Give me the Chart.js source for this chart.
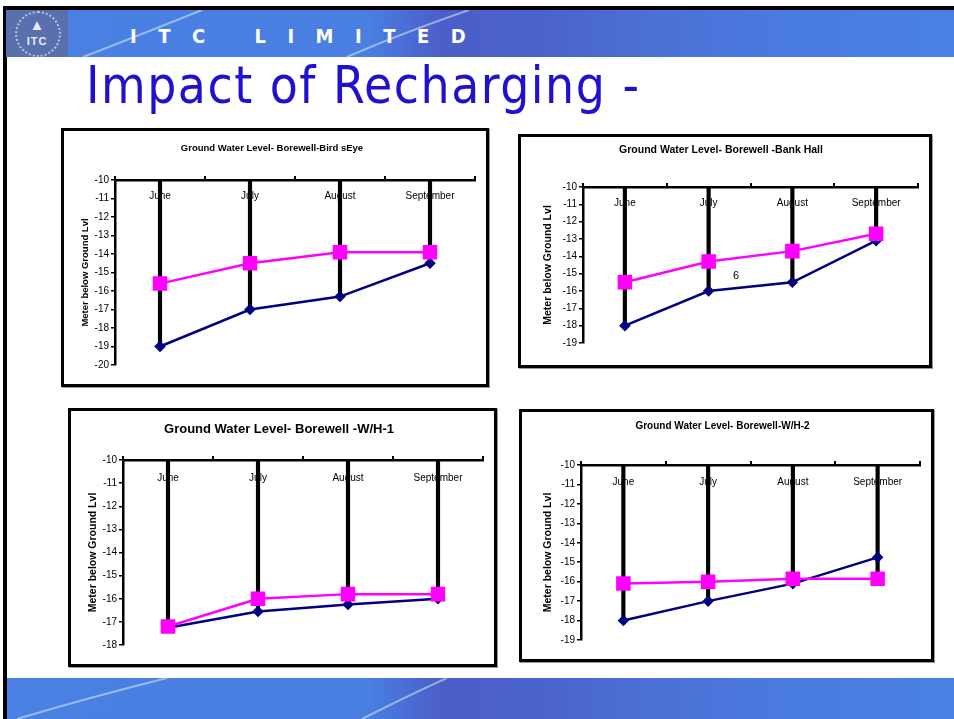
<!DOCTYPE html>
<html>
<head>
<meta charset="utf-8">
<title>Impact of Recharging</title>
<script src="https://cdn.jsdelivr.net/npm/chart.js@4.4.0/dist/chart.umd.min.js"></script>
<style>
    html, body { margin: 0; padding: 0; background: #fff; }
    body { width: 954px; height: 719px; position: relative; overflow: hidden; font-family: "Liberation Sans", Arial, sans-serif; }
    .topline { position: absolute; left: 3px; top: 6px; width: 951px; height: 4px; background: #000; }
    .leftline { position: absolute; left: 3px; top: 6px; width: 4px; height: 713px; background: #000; }
    .band { position: absolute; left: 7px; width: 947px; overflow: hidden;
        background: linear-gradient(90deg, #4a80e2 0%, #4a7fe2 38%, #4b5ec9 46%, #4b62cc 56%, #4b70d6 68%, #4a7bde 82%, #4a80e4 100%); }
    .band svg { position: absolute; left: 0; top: 0; }
    .header { top: 10px; height: 47px; }
    .footer { top: 678px; height: 41px; }
    .logo { position: absolute; left: 6px; top: 10px; width: 62px; height: 47px; background: #5a6fae; overflow: hidden; }
    .logo .ring { position: absolute; left: 9px; top: 1px; width: 42px; height: 42px; border-radius: 50%; border: 2px dotted #b9c3de; }
    .logo .mark { position: absolute; left: 0; top: 7px; width: 62px; text-align: center; color: #e8ecf6; font: bold 15px "Liberation Sans", Arial, sans-serif; line-height: 16px; }
    .logo .mark small { display: block; font-size: 11px; letter-spacing: 1px; }
    .company { position: absolute; left: 130px; top: 24px; color: #fff; font: bold 20px "Liberation Sans Narrow", "DejaVu Sans Condensed", Arial, sans-serif; letter-spacing: 21.5px; white-space: nowrap; }
    .slide-title { position: absolute; left: 86px; top: 56px; color: #2010d0; font: 51px "Liberation Sans Narrow", "DejaVu Sans Condensed", Arial, sans-serif; letter-spacing: 1.5px; white-space: nowrap; }
    .box { position: absolute; border: 3px solid #000; box-shadow: 1px 1px 0 #999; background: #fff; }
    .box .inner { position: absolute; left: 0; top: 0; right: 0; bottom: 0; }
    .stray { position: absolute; font: 11px "Liberation Sans", Arial, sans-serif; color: #000; }
</style>
</head>
<body>
<div class="topline"></div>
<div class="leftline"></div>
<div class="band header">
    <svg width="947" height="47">
        <path d="M76 47 Q120 30 195 0" stroke="rgba(255,255,255,0.45)" stroke-width="2" fill="none"/>
        <path d="M340 47 Q390 25 462 0" stroke="rgba(255,255,255,0.45)" stroke-width="2" fill="none"/>
    </svg>
</div>
<div class="logo"><div class="ring"></div><div class="mark">&#9650;<small>ITC</small></div></div>
<div class="company">ITC LIMITED</div>
<div class="slide-title">Impact of Recharging -</div>

<div class="box" style="left:61px; top:128px; width:422px; height:253px;"><div class="inner"><canvas id="chart-birdseye"></canvas></div></div>
<div class="box" style="left:518px; top:134px; width:408px; height:228px;"><div class="inner"><canvas id="chart-bankhall"></canvas></div>
    <span class="stray" style="left:212px; top:132px;">6</span></div>
<div class="box" style="left:68px; top:408px; width:423px; height:253px;"><div class="inner"><canvas id="chart-wh1"></canvas></div></div>
<div class="box" style="left:519px; top:409px; width:409px; height:247px;"><div class="inner"><canvas id="chart-wh2"></canvas></div></div>

<div class="band footer">
    <svg width="947" height="41">
        <path d="M10 41 Q80 20 160 0" stroke="rgba(255,255,255,0.45)" stroke-width="2" fill="none"/>
        <path d="M355 41 Q400 18 440 0" stroke="rgba(255,255,255,0.45)" stroke-width="2" fill="none"/>
    </svg>
</div>

<script>
// Data (metres, negative = below ground)
const months = ['June', 'July', 'August', 'September'];

const birdsEyeBefore = [-19.0, -17.0, -16.3, -14.5];
const birdsEyeAfter = [-15.6, -14.5, -13.9, -13.9];

const bankHallBefore = [-18.0, -16.0, -15.5, -13.1];
const bankHallAfter = [-15.5, -14.3, -13.7, -12.7];

const wh1Before = [-17.25, -16.55, -16.25, -16.0];
const wh1After = [-17.2, -16.0, -15.8, -15.8];

const wh2Before = [-18.0, -17.0, -16.1, -14.75];
const wh2After = [-16.1, -16.0, -15.85, -15.85];

const axisTop = -10;
const axisBottoms = [-20, -19, -18, -19];
const yTitle = 'Meter below Ground Lvl';

Chart.defaults.font.family = '"Liberation Sans", Arial, sans-serif';
Chart.defaults.color = '#000';
Chart.defaults.animation = false;

// Build one ground-water chart
function buildChart(canvasId, opts) {
    const ctx = document.getElementById(canvasId);
    if (!ctx) return null;

    // drop lines from the axis down to the deepest reading
    const dropEnds = opts.before.map((v, i) => [axisTop, Math.min(v, opts.after[i])]);

    return new Chart(ctx, {
        type: 'bar',
        data: {
            labels: months,
            datasets: [
                {
                    type: 'line',
                    data: opts.after,
                    borderColor: '#ff00ff',
                    backgroundColor: '#ff00ff',
                    borderWidth: 2.5,
                    pointStyle: 'rect',
                    pointRadius: 8.5,
                    tension: 0,
                    order: 1
                },
                {
                    type: 'line',
                    data: opts.before,
                    borderColor: '#000080',
                    backgroundColor: '#000080',
                    borderWidth: 2.5,
                    pointStyle: 'rectRot',
                    pointRadius: 4,
                    tension: 0,
                    order: 2
                },
                {
                    type: 'bar',
                    data: dropEnds,
                    backgroundColor: '#000',
                    barThickness: 3.5,
                    order: 3
                }
            ]
        },
        options: {
            responsive: true,
            maintainAspectRatio: false,
            layout: {
                padding: { left: 0, right: opts.padRight, top: 0, bottom: opts.padBottom }
            },
            plugins: {
                legend: { display: false },
                tooltip: { enabled: false },
                title: {
                    display: true,
                    text: opts.title,
                    color: '#000',
                    font: { size: opts.titleSize, weight: 'bold' },
                    padding: { top: opts.titleTop, bottom: 0 }
                }
            },
            scales: {
                x: {
                    position: 'top',
                    offset: true,
                    grid: {
                        offset: true,
                        drawOnChartArea: false,
                        drawTicks: true,
                        tickLength: 4,
                        color: '#000',
                        lineWidth: 2
                    },
                    border: { display: true, color: '#000', width: 2.5 },
                    ticks: {
                        mirror: true,
                        padding: opts.labelGap,
                        color: '#000',
                        font: { size: 10 },
                        maxRotation: 0,
                        autoSkip: false
                    },
                    afterFit: s => { s.height = opts.xHeight; }
                },
                y: {
                    min: opts.yMin,
                    max: axisTop,
                    ticks: { stepSize: 1, color: '#000', font: { size: 10 }, padding: 2 },
                    grid: { drawOnChartArea: false, tickLength: 4, color: '#000', lineWidth: 1.5 },
                    border: { display: true, color: '#000', width: 2.5 },
                    title: {
                        display: true,
                        text: yTitle,
                        color: '#000',
                        font: { size: opts.yTitleSize, weight: 'bold' },
                        padding: { top: opts.yTitleTop, bottom: 0 }
                    },
                    afterFit: s => { s.width = opts.yWidth; }
                }
            }
        }
    });
}

buildChart('chart-birdseye', {
    title: 'Ground Water Level- Borewell-Bird sEye',
    before: birdsEyeBefore, after: birdsEyeAfter, yMin: axisBottoms[0],
    titleSize: 9.5, titleTop: 11.3, xHeight: 26.3, labelGap: 10,
    yWidth: 51, yTitleSize: 9.5, yTitleTop: 15.3, padRight: 6, padBottom: 19
});

buildChart('chart-bankhall', {
    title: 'Ground Water Level- Borewell -Bank Hall',
    before: bankHallBefore, after: bankHallAfter, yMin: axisBottoms[1],
    titleSize: 10.5, titleTop: 6.7, xHeight: 30.7, labelGap: 10,
    yWidth: 62, yTitleSize: 10.5, yTitleTop: 20.7, padRight: 8, padBottom: 22
});

buildChart('chart-wh1', {
    title: 'Ground Water Level- Borewell -W/H-1',
    before: wh1Before, after: wh1After, yMin: axisBottoms[2],
    titleSize: 13, titleTop: 10.2, xHeight: 23.2, labelGap: 12,
    yWidth: 52, yTitleSize: 10.5, yTitleTop: 15.7, padRight: 7, padBottom: 19
});

buildChart('chart-wh2', {
    title: 'Ground Water Level- Borewell-W/H-2',
    before: wh2Before, after: wh2After, yMin: axisBottoms[3],
    titleSize: 10, titleTop: 8, xHeight: 33, labelGap: 11,
    yWidth: 59, yTitleSize: 10.5, yTitleTop: 19.7, padRight: 8, padBottom: 19
});
</script>
</body>
</html>
